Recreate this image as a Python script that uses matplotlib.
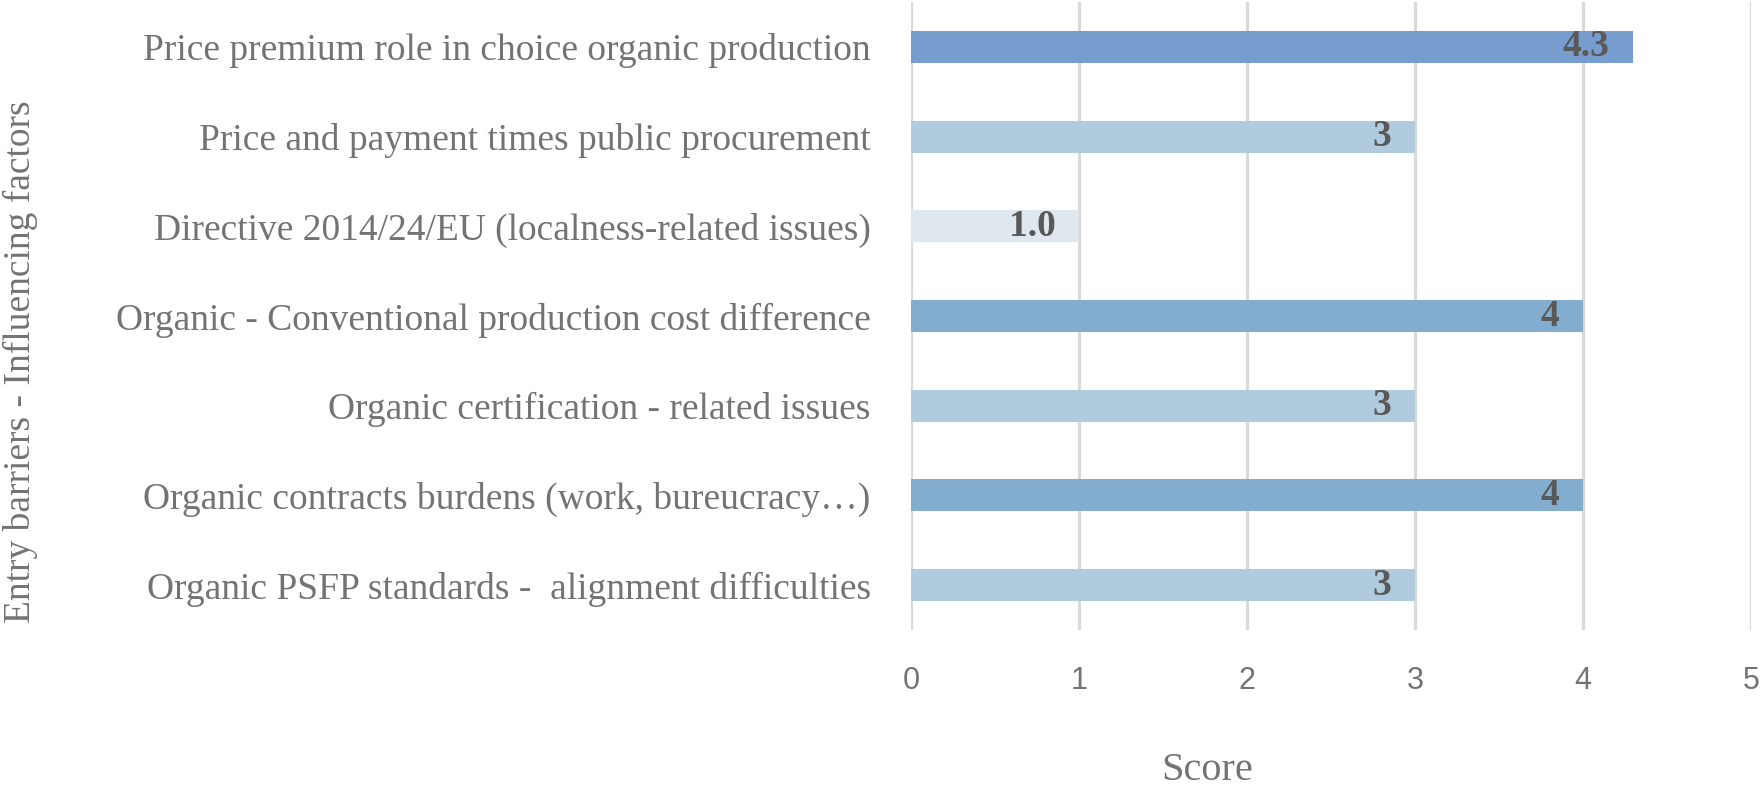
import matplotlib.pyplot as plt

# data, top to bottom as in the chart
factors = [
    "Price premium role in choice organic production",
    "Price and payment times public procurement",
    "Directive 2014/24/EU (localness-related issues)",
    "Organic - Conventional production cost difference",
    "Organic certification - related issues",
    "Organic contracts burdens (work, bureucracy\u2026)",
    "Organic PSFP standards -  alignment difficulties",
]
scores = [4.3, 3, 1.0, 4, 3, 4, 3]
score_labels = ["4.3", "3", "1.0", "4", "3", "4", "3"]
bar_colors = ["#779CCE", "#B0CADE", "#DFE7EF", "#83ADCE", "#B0CADE", "#83ADCE", "#B0CADE"]
x_ticks = [0, 1, 2, 3, 4, 5]

serif = "Liberation Serif"
grey = "#737373"

fig = plt.figure(figsize=(17.62, 7.96), dpi=100)
ax = fig.add_axes([911 / 1762, 1 - 630 / 796, (1751 - 911) / 1762, (630 - 2) / 796])

y = list(range(len(factors)))
ax.barh(y, scores, height=0.356, color=bar_colors, zorder=3)

for yi, v, lab in zip(y, scores, score_labels):
    ax.annotate(lab, (v, yi), xytext=(-17, 0), textcoords="offset points",
                ha="right", va="center", fontsize=27, fontweight="bold",
                family=serif, color="#595959", zorder=4)

ax.set_xlim(0, 5)
ax.set_ylim(len(factors) - 0.5, -0.5)
ax.set_xticks(x_ticks)
ax.set_xticklabels([str(t) for t in x_ticks], fontsize=22, color=grey, family="Liberation Sans")
ax.set_yticks(y)
ax.set_yticklabels(factors, fontsize=27, color=grey, family=serif)
ax.tick_params(axis="x", length=0, pad=26)
ax.tick_params(axis="y", length=0, pad=29)
ax.grid(axis="x", color="#D9D9D9", linewidth=2.2, zorder=0)
for s in ax.spines.values():
    s.set_visible(False)

fig.text(20 / 1762, 1 - 362 / 796, "Entry barriers - Influencing factors", rotation=90,
         ha="center", va="center", fontsize=27, color=grey, family=serif)
fig.text(1207 / 1762, 1 - 770 / 796, "Score", ha="center", va="center",
         fontsize=29, color=grey, family=serif)

fig.savefig("out.png", dpi=100)
